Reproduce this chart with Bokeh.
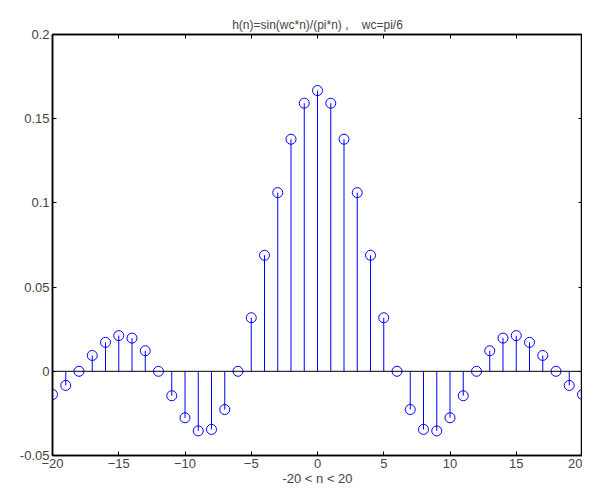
from bokeh.plotting import figure
from bokeh.models import Range1d, LinearAxis, FixedTicker, Span
from bokeh.embed import file_html
from bokeh.resources import INLINE

n = list(range(-20, 21))
h = [-0.0138, -0.0084, 0.0, 0.0094, 0.0172, 0.0212, 0.0197, 0.0122, 0.0, -0.0145,
     -0.0276, -0.0354, -0.0345, -0.0227, 0.0, 0.0318, 0.0689, 0.1061, 0.1378, 0.1592,
     0.1667,
     0.1592, 0.1378, 0.1061, 0.0689, 0.0318, 0.0, -0.0227, -0.0345, -0.0354, -0.0276,
     -0.0145, 0.0, 0.0122, 0.0197, 0.0212, 0.0172, 0.0094, 0.0, -0.0084, -0.0138]
x_ticks = [-20, -15, -10, -5, 0, 5, 10, 15, 20]
y_ticks = [-0.05, 0, 0.05, 0.1, 0.15, 0.2]
y_labels = ["-0.05", "0", "0.05", "0.1", "0.15", "0.2"]
title = "h(n)=sin(wc*n)/(pi*n) ,\u00a0\u00a0\u00a0\u00a0wc=pi/6"
xlabel = "-20 < n < 20"

FONT = "Liberation Sans"

p = figure(width=582, height=488, output_backend="svg", toolbar_location=None,
           x_range=Range1d(-20, 20), y_range=Range1d(-0.05, 0.2),
           min_border_left=52, min_border_right=0, min_border_top=34, min_border_bottom=10)
p.title.text = title
p.title.align = "center"
p.title.text_font = FONT
p.title.text_font_style = "normal"
p.title.text_font_size = "12px"
p.title.standoff = 6
p.xgrid.visible = False
p.ygrid.visible = False
p.outline_line_color = "black"
p.outline_line_width = 1.5
p.background_fill_color = "white"

p.add_layout(Span(location=0, dimension="width", line_color="black", line_width=1))
p.segment(x0=n, y0=[0] * len(n), x1=n, y1=h, line_color="#0000ff", line_width=1)
p.scatter(x=n, y=h, marker="circle", size=10, fill_color=None, line_color="#0000ff", line_width=1)

def style(ax, labels=True):
    ax.axis_line_color = "black"
    ax.axis_line_width = 1.5
    ax.major_tick_in = 4
    ax.major_tick_out = 0
    ax.minor_tick_line_color = None
    ax.major_tick_line_color = "black"
    ax.major_label_text_font = FONT
    ax.major_label_text_font_size = "13px" if labels else "0px"
    ax.major_label_standoff = 3 if labels else 0

xa = p.xaxis[0]
xa.ticker = FixedTicker(ticks=x_ticks)
style(xa)
xa.axis_label = xlabel
xa.axis_label_text_font = FONT
xa.axis_label_text_font_size = "13px"
xa.axis_label_text_font_style = "normal"
xa.axis_label_standoff = 0

ya = p.yaxis[0]
ya.ticker = FixedTicker(ticks=y_ticks)
ya.major_label_overrides = {t: l for t, l in zip(y_ticks, y_labels)}
style(ya)

top = LinearAxis(ticker=FixedTicker(ticks=x_ticks))
style(top, False)
top.major_label_overrides = {t: "" for t in x_ticks}
p.add_layout(top, "above")
right = LinearAxis(ticker=FixedTicker(ticks=y_ticks))
style(right, False)
right.major_label_overrides = {t: "" for t in y_ticks}
p.add_layout(right, "right")

open("out.html", "w").write(file_html(p, INLINE))
